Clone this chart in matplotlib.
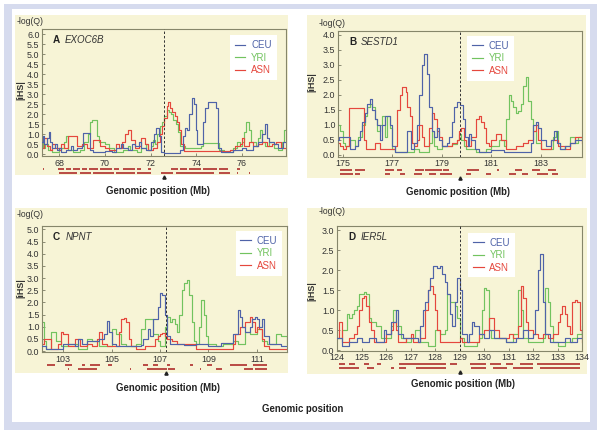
from matplotlib import pyplot as plt
from matplotlib.patches import Rectangle

plt.rcParams['font.family'] = ['Liberation Sans', 'DejaVu Sans']

# ---- colours ----
CEU_C = '#4f63a8'
YRI_C = '#72c35f'
ASN_C = '#e5473d'
GENE_C = '#a81c1c'
PANEL_BG = '#f7f4d6'
FRAME_C = '#d6dbee'

# ================= data: panel A (EXOC6B) =================
a_ceu_x = [67.25, 67.3, 67.35, 67.45, 67.55, 67.6, 67.7, 67.8, 67.9, 68.0, 68.1, 68.3, 68.5, 68.6, 68.8, 69.0, 69.05, 69.35,
           69.5, 70.0, 70.3, 70.5, 70.7, 70.8, 71.0, 71.2, 71.3, 71.5, 71.6, 71.8, 72.0, 72.15, 72.25, 72.35, 72.45, 72.6,
           73.3, 73.4, 73.5, 73.6, 73.7, 73.8, 73.9, 74.0, 74.05, 74.2, 74.3, 74.4, 74.5, 74.85, 74.95, 75.1, 75.6, 76.0,
           76.2, 76.5, 76.7, 76.9, 77.0, 77.1, 77.2, 77.4, 77.6, 77.8, 77.93]
a_ceu_y = [0.6, 0.9, 0.5, 0.8, 1.1, 0.6, 0.3, 0.5, 0.2, 0.3, 0.1, 0.2, 0.4, 0.2, 0.3, 0.4, 1.05, 0.2,
           0.1, 0.15, 0.1, 0.3, 0.5, 0.3, 0.2, 0.5, 0.4, 0.6, 0.3, 0.2, 0.6, 1.0, 1.3, 0.9, 0.1, 0.05,
           0.2, 0.9, 1.3, 1.2, 2.0, 2.8, 2.5, 1.2, 0.5, 0.5, 1.6, 2.3, 2.6, 2.3, 0.3, 0.1, 0.2, 0.3,
           0.2, 0.4, 0.6, 1.0, 1.5, 0.8, 0.6, 0.5, 0.3, 0.6, 0.6]
a_yri_x = [67.25, 67.3, 67.4, 67.5, 67.7, 68.0, 68.2, 68.3, 68.4, 68.6, 68.9, 69.1, 69.25, 69.35, 69.45, 69.65, 69.75,
           70.0, 70.2, 70.4, 70.8, 71.0, 71.1, 71.4, 71.6, 71.8, 71.9, 72.0, 72.1, 72.2, 72.3, 72.4, 72.5, 72.6, 72.7,
           72.8, 72.9, 73.0, 73.1, 73.2, 73.3, 73.5, 74.2, 74.3, 75.0, 75.2, 75.6, 75.8, 75.9, 76.0, 76.1, 76.2, 76.3,
           76.4, 76.6, 76.7, 76.8, 76.9, 77.0, 77.2, 77.4, 77.6, 77.75, 77.85, 77.93]
a_yri_y = [0.7, 0.3, 0.5, 0.2, 0.1, 0.3, 0.6, 0.9, 0.2, 0.1, 0.2, 0.6, 1.0, 1.6, 1.7, 0.9, 0.6,
           0.5, 0.3, 0.1, 0.2, 0.4, 0.2, 0.1, 0.3, 0.5, 0.2, 0.4, 0.7, 0.5, 1.0, 1.4, 1.6, 1.9, 2.2,
           2.1, 2.0, 1.7, 1.5, 1.1, 0.4, 0.3, 0.4, 0.55, 0.2, 0.1, 0.3, 0.6, 0.4, 0.6, 1.1, 1.6, 1.2,
           0.6, 0.4, 0.8, 1.2, 0.6, 0.4, 0.6, 0.3, 0.2, 0.6, 1.2, 1.2]
a_asn_x = [67.25, 67.35, 67.45, 67.6, 67.7, 67.8, 68.0, 68.1, 68.2, 68.4, 68.8, 69.0, 69.2, 69.5, 69.8, 70.0, 70.2,
           70.5, 70.6, 70.75, 70.9, 71.0, 71.15, 71.3, 71.5, 71.6, 71.75, 71.9, 72.1, 72.3, 72.4, 72.5, 72.6, 72.7,
           72.75, 72.85, 72.95, 73.05, 73.15, 73.25, 73.35, 73.45, 75.5, 75.7, 75.9, 76.0, 76.1, 76.3, 76.5, 76.7,
           76.9, 77.1, 77.3, 77.5, 77.7, 77.93]
a_asn_y = [0.3, 0.8, 0.4, 0.2, 0.5, 0.3, 0.2, 0.5, 0.3, 0.9, 0.4, 0.5, 0.3, 0.7, 0.4, 0.3, 0.2,
           0.5, 0.3, 0.6, 1.0, 1.2, 0.7, 0.3, 0.4, 0.8, 0.5, 0.2, 0.3, 0.6, 1.0, 1.4, 1.8, 2.4,
           2.6, 2.3, 2.1, 1.9, 1.6, 1.2, 0.5, 0.15, 0.2, 0.4, 0.5, 0.8, 0.4, 0.6, 0.4, 0.5,
           0.6, 0.4, 0.5, 0.6, 0.3, 0.3]
a_genes_top = [(67.3, 67.33), (67.95, 68.2), (68.3, 68.5), (68.6, 68.9), (69.0, 69.2), (69.3, 69.7), (69.8, 70.3),
               (70.4, 70.6), (70.8, 71.3), (71.4, 71.6), (71.9, 72.0), (72.9, 73.2), (73.3, 73.6), (73.7, 74.2),
               (74.3, 74.9), (75.0, 75.4), (75.8, 75.9)]
a_genes_bot = [(68.0, 68.8), (68.9, 69.4), (69.5, 70.4), (70.5, 71.3), (71.4, 72.0), (72.45, 73.0), (73.1, 74.8),
               (75.0, 75.5), (75.8, 75.85), (76.3, 76.35)]

# ================= data: panel B (SESTD1) =================
b_ceu_x = [174.8, 174.85, 175.3, 175.5, 175.6, 175.7, 175.8, 175.9, 176.0, 176.1, 176.2, 176.3, 176.4, 176.5, 176.6,
           176.7, 176.9, 177.0, 177.1, 177.6, 177.75, 177.9, 178.0, 178.1, 178.2, 178.3, 178.4, 178.5, 178.6, 178.7,
           178.8, 178.9, 179.0, 179.2, 179.3, 179.4, 179.5, 179.6, 179.75, 179.85, 179.95, 180.05, 180.1, 180.2,
           180.35, 180.5, 181.0, 181.5, 182.6, 182.7, 182.8, 182.9, 183.0, 183.2, 183.4, 183.55, 183.65, 183.8,
           184.0, 184.2, 184.4, 184.67]
b_ceu_y = [0.5, 0.6, 0.2, 0.3, 0.5, 0.8, 1.1, 1.4, 1.7, 1.85, 1.5, 1.2, 1.0, 0.5, 1.0,
           1.3, 1.0, 0.3, 0.1, 0.8, 0.2, 0.4, 1.0, 2.0, 3.0, 3.35, 2.7, 1.6, 0.8, 0.6,
           0.9, 0.5, 0.3, 0.4, 0.6, 1.1, 1.6, 1.75, 1.65, 1.2, 0.6, 0.3, 0.7, 0.5,
           0.2, 0.1, 0.15, 0.1, 0.4, 1.0, 1.1, 0.9, 0.5, 0.3, 0.5, 0.8, 0.4, 0.2,
           0.3, 0.4, 0.5, 0.5]
b_yri_x = [174.8, 174.9, 175.0, 175.1, 175.3, 175.5, 175.6, 175.8, 175.9, 176.0, 176.1, 176.2, 176.3, 176.4, 176.5,
           176.6, 176.7, 176.8, 176.9, 177.0, 177.1, 177.9, 178.1, 178.5, 178.6, 178.7, 178.8, 179.0, 179.4, 179.6,
           179.7, 179.8, 179.9, 180.0, 180.4, 180.8, 181.0, 181.3, 181.5, 181.6, 181.7, 181.8, 181.9, 182.0, 182.1,
           182.2, 182.3, 182.4, 182.5, 182.6, 182.7, 182.8, 183.0, 183.3, 183.5, 183.6, 183.7, 183.8, 184.0, 184.2,
           184.4, 184.5, 184.67]
b_yri_y = [1.0, 0.8, 0.4, 0.3, 0.5, 0.3, 0.6, 1.0, 1.3, 1.6, 1.7, 1.6, 1.2, 0.8, 1.0,
           1.3, 0.6, 1.3, 0.9, 0.2, 0.1, 0.2, 0.1, 0.4, 0.8, 0.3, 0.2, 0.3, 0.35, 0.5,
           0.7, 0.5, 0.3, 0.2, 0.1, 0.2, 0.3, 0.5, 0.3, 1.2, 2.0, 1.8, 1.6, 1.4, 1.45,
           1.7, 2.3, 2.6, 1.8, 1.2, 0.8, 0.4, 0.2, 0.2, 0.6, 0.8, 0.4, 0.2, 0.3, 0.6,
           0.4, 0.6, 0.6]
b_asn_x = [174.8, 174.9, 175.0, 175.15, 175.25, 175.85, 175.95, 176.3, 176.5, 177.0, 177.1, 177.2, 177.3, 177.4,
           177.55, 177.6, 177.7, 177.8, 177.9, 178.0, 178.1, 178.2, 178.3, 178.5, 178.6, 178.7, 178.8, 178.9, 179.0,
           179.4, 179.6, 179.7, 179.8, 179.9, 180.0, 180.2, 180.4, 180.5, 180.6, 180.7, 180.8, 180.9, 181.0, 181.2,
           181.4, 181.6, 182.0, 182.3, 182.5, 182.7, 182.8, 182.9, 183.0, 183.4, 183.7, 184.0, 184.2, 184.4, 184.67]
b_asn_y = [0.4, 0.3, 0.2, 0.3, 1.55, 0.5, 0.2, 0.4, 0.2, 0.2, 0.3, 1.5, 2.0, 2.25,
           2.1, 1.6, 1.3, 0.4, 0.3, 0.5, 1.0, 0.6, 0.3, 0.9, 1.4, 1.2, 0.8, 0.6, 0.3,
           0.4, 0.5, 0.8, 0.9, 0.5, 0.3, 0.6, 1.2, 1.3, 1.1, 0.9, 0.4, 0.3, 0.5, 0.7,
           0.5, 0.2, 0.3, 0.4, 0.5, 0.8, 1.0, 0.5, 0.2, 0.5, 0.3, 0.2, 0.4, 0.6, 0.4]
b_genes_top = [(174.9, 175.38), (175.5, 175.9), (176.72, 177.06), (177.2, 177.4), (177.93, 178.27), (178.34, 179.01),
               (179.05, 179.3), (180.02, 180.5), (181.25, 181.32), (181.97, 182.24), (182.64, 182.98), (183.3, 183.6)]
b_genes_bot = [(174.9, 175.4), (175.5, 175.7), (176.7, 176.9), (177.3, 177.5), (177.9, 178.2), (178.5, 178.75),
               (178.94, 179.41), (180.0, 180.2), (180.8, 181.0), (181.7, 182.0), (182.25, 182.5), (182.85, 183.3),
               (183.45, 183.7)]

# ================= data: panel C (NPNT) =================
c_ceu_x = [102.13, 102.3, 103.0, 103.5, 103.6, 103.8, 104.0, 104.5, 104.7, 104.8, 104.9, 105.0, 105.2, 106.2, 106.3,
           106.5, 106.6, 106.7, 106.9, 107.0, 107.1, 107.2, 107.3, 107.4, 107.6, 108.0, 108.5, 109.0, 109.5, 110.0,
           110.2, 110.3, 110.4, 110.5, 110.7, 110.8, 110.9, 111.0, 111.1, 111.2, 111.3, 111.5, 111.8, 112.0, 112.24]
c_ceu_y = [0.2, 0.1, 0.3, 0.2, 0.5, 0.3, 0.4, 0.5, 0.7, 1.25, 0.8, 0.3, 0.2, 0.25, 0.5,
           0.9, 0.6, 1.3, 1.8, 2.4, 2.3, 1.5, 0.6, 0.3, 0.3, 0.25, 0.3, 0.2, 0.35, 0.7,
           1.7, 1.4, 1.0, 0.8, 1.0, 1.3, 1.4, 1.3, 1.0, 1.3, 0.6, 0.3, 0.3, 0.2, 0.2]
c_yri_x = [102.13, 102.2, 102.3, 102.5, 102.7, 102.9, 103.2, 103.6, 104.0, 104.2, 104.5, 104.8, 105.0, 105.2, 105.4,
           105.6, 106.0, 106.2, 106.4, 106.7, 106.9, 107.0, 107.2, 107.3, 107.4, 107.5, 107.6, 107.7, 107.8, 107.9,
           108.0, 108.1, 108.2, 108.3, 108.4, 108.5, 108.6, 108.7, 108.8, 108.9, 109.0, 109.3, 109.6, 110.0, 110.2,
           110.5, 110.7, 111.0, 111.2, 111.4, 111.6, 111.8, 112.0, 112.24]
c_yri_y = [1.2, 0.4, 0.1, 0.8, 0.4, 0.2, 0.3, 0.1, 0.5, 0.4, 0.2, 0.2, 0.9, 0.7, 0.3,
           0.2, 0.3, 0.9, 1.3, 0.7, 0.4, 0.2, 1.0, 1.4, 1.2, 1.3, 1.1, 0.8, 1.5, 2.5,
           2.8, 2.9, 2.3, 1.2, 0.4, 0.3, 1.0, 2.1, 1.5, 0.6, 0.3, 0.2, 0.3, 0.4, 0.3,
           0.8, 0.7, 0.9, 0.4, 0.3, 0.3, 0.7, 0.6, 0.3]
c_asn_x = [102.13, 102.2, 102.4, 102.5, 102.8, 102.9, 103.0, 103.2, 103.5, 103.7, 104.0, 104.2, 104.4, 104.5, 104.6,
           104.8, 105.1, 105.3, 105.4, 105.5, 105.6, 105.7, 105.8, 106.0, 106.4, 106.8, 106.9, 107.0, 107.1, 107.2,
           107.3, 107.5, 107.7, 108.0, 108.5, 110.0, 110.1, 110.3, 110.5, 110.7, 110.8, 110.9, 111.0, 111.1, 111.2,
           111.3, 111.5, 112.24]
c_asn_y = [0.3, 0.5, 0.5, 0.1, 0.3, 0.8, 0.7, 0.2, 0.5, 0.2, 0.3, 0.2, 0.5, 0.8, 0.3,
           0.2, 0.2, 0.8, 1.3, 1.35, 1.2, 0.5, 0.2, 0.1, 0.2, 0.5, 0.6, 0.7, 0.75, 0.6,
           0.5, 0.4, 0.3, 0.3, 0.1, 0.3, 0.7, 1.0, 1.2, 1.4, 1.2, 0.8, 1.0, 0.9, 0.5,
           0.2, 0.1, 0.1]
c_genes_top = [(102.32, 102.67), (103.08, 103.36), (103.78, 103.9), (104.11, 104.52), (104.87, 105.0),
               (106.31, 106.52), (106.73, 106.93), (107.28, 107.42), (108.24, 108.37), (108.92, 109.13),
               (109.88, 110.57), (110.85, 111.4)]
c_genes_bot = [(103.2, 103.25), (103.63, 104.39), (105.75, 105.8), (106.45, 107.27), (107.34, 107.62),
               (108.65, 108.7), (109.33, 109.54), (110.45, 110.85), (110.9, 111.4)]

# ================= data: panel D (IER5L) =================
d_ceu_x = [124.0, 124.2, 124.5, 124.8, 125.0, 125.3, 125.6, 125.9, 126.0, 126.2, 126.4, 126.5, 126.7, 127.0, 127.3,
           127.4, 127.5, 127.6, 127.7, 127.8, 127.9, 128.0, 128.1, 128.2, 128.3, 128.4, 128.5, 128.6, 128.7, 128.8,
           128.9, 129.0, 129.1, 129.3, 129.4, 129.5, 129.6, 129.8, 130.0, 130.2, 130.4, 130.6, 130.9, 131.1, 131.3,
           131.6, 131.8, 132.0, 132.1, 132.2, 132.3, 132.4, 132.5, 132.7, 133.0, 133.3, 133.5, 133.8, 134.0]
d_ceu_y = [0.3, 0.1, 0.2, 0.3, 0.2, 0.3, 0.2, 0.5, 0.4, 0.7, 1.0, 0.4, 0.3, 0.3, 0.2,
           0.6, 1.0, 1.2, 1.5, 1.8, 2.1, 2.1, 2.05, 2.1, 1.9, 1.7, 1.4, 0.9, 0.6, 1.2,
           1.8, 1.5, 0.4, 0.2, 0.4, 0.7, 0.6, 0.4, 0.3, 0.5, 0.3, 0.3, 0.2, 0.2, 0.3,
           0.5, 0.3, 0.4, 1.0, 2.0, 2.4, 1.2, 0.4, 0.2, 0.2, 0.3, 0.2, 0.3, 0.5]
d_yri_x = [124.0, 124.2, 124.4, 124.5, 124.6, 124.7, 124.8, 124.9, 125.0, 125.1, 125.2, 125.3, 125.4, 125.6, 125.8,
           126.0, 126.2, 126.3, 126.4, 126.6, 126.8, 127.0, 127.2, 127.4, 127.7, 128.0, 128.2, 128.4, 128.5, 128.6,
           128.8, 128.9, 129.0, 129.2, 129.7, 129.8, 129.9, 130.0, 130.1, 130.2, 130.3, 130.6, 130.9, 131.2, 131.4,
           131.5, 131.6, 131.8, 132.4, 132.5, 132.6, 132.7, 132.8, 133.0, 133.3, 133.6, 133.8, 134.0]
d_yri_y = [0.3, 0.5, 0.9, 0.8, 0.9, 1.0, 1.1, 1.4, 1.4, 1.45, 1.4, 0.8, 0.7, 0.6, 0.3,
           0.3, 0.6, 1.0, 0.6, 0.3, 0.2, 0.3, 0.5, 0.2, 0.1, 0.5, 0.4, 0.5, 1.4, 1.2,
           1.1, 0.8, 0.3, 0.1, 0.2, 0.3, 1.0, 1.55, 1.5, 0.5, 0.3, 0.3, 0.2, 0.4, 1.5,
           1.0, 0.3, 0.2, 0.3, 1.55, 1.2, 0.6, 0.2, 0.1, 0.2, 0.3, 0.4, 0.6]
d_asn_x = [124.0, 124.1, 124.2, 124.5, 124.7, 124.8, 124.9, 125.0, 125.1, 125.2, 125.3, 125.4, 125.5, 125.8, 126.0,
           126.2, 126.3, 126.4, 126.5, 126.8, 127.0, 127.1, 127.4, 127.6, 127.7, 127.8, 127.9, 128.0, 128.1, 128.2,
           128.4, 128.7, 129.0, 129.1, 129.4, 129.8, 130.0, 130.2, 130.4, 130.6, 131.0, 131.2, 131.4, 131.5, 131.6,
           131.7, 131.8, 132.0, 132.2, 132.4, 132.6, 132.8, 133.0, 133.1, 133.2, 133.3, 133.4, 133.5, 133.6, 133.7,
           133.8, 133.9, 134.0]
d_asn_y = [0.3, 0.7, 0.2, 0.3, 0.4, 0.6, 1.0, 1.3, 1.35, 1.1, 0.7, 0.5, 0.2, 0.2, 0.4,
           0.5, 0.7, 0.5, 0.2, 0.3, 0.4, 0.2, 0.3, 1.0, 1.5, 1.6, 1.4, 1.0, 0.5, 0.2,
           0.2, 0.2, 0.3, 0.2, 0.2, 0.4, 0.5, 0.8, 0.5, 0.3, 0.4, 0.3, 0.6, 1.6, 1.3,
           0.7, 0.5, 0.4, 0.3, 0.4, 0.3, 0.4, 0.7, 0.9, 1.1, 0.9, 0.6, 0.4, 1.2, 1.25,
           1.2, 0.5, 0.2]
d_genes_top = [(124.07, 124.34), (124.48, 124.75), (125.1, 125.3), (125.64, 125.78), (126.53, 128.45),
               (128.6, 128.9), (129.41, 130.1), (130.23, 130.7), (130.9, 131.2), (131.47, 132.0), (132.15, 133.93)]
d_genes_bot = [(124.07, 124.89), (125.23, 125.5), (126.19, 126.33), (126.53, 126.8), (127.22, 128.45),
               (129.48, 130.1), (130.37, 130.92), (131.19, 132.0), (132.29, 133.93)]

# panel settings: letter, gene, axis limits, ticks, dashed line, axes box in px (l, t, r, b), legend anchor
panels = [
    dict(letter='A', gene='EXOC6B', xlim=(67.25, 77.93), ylim=(-0.08, 6.25), ymax=6.0, xticks=[68, 70, 72, 74, 76],
         mark=72.58, box=(42, 29, 286, 156),
         ceu=(a_ceu_x, a_ceu_y), yri=(a_yri_x, a_yri_y), asn=(a_asn_x, a_asn_y),
         genes=(a_genes_top, a_genes_bot), leg=(0.77, 0.95)),
    dict(letter='B', gene='SESTD1', xlim=(174.81, 184.67), ylim=(-0.08, 4.13), ymax=4.0, xticks=[175, 177, 179, 181, 183],
         mark=179.74, box=(338, 31, 582, 157),
         ceu=(b_ceu_x, b_ceu_y), yri=(b_yri_x, b_yri_y), asn=(b_asn_x, b_asn_y),
         genes=(b_genes_top, b_genes_bot), leg=(0.53, 0.96)),
    dict(letter='C', gene='NPNT', xlim=(102.13, 112.24), ylim=(-0.04, 5.14), ymax=5.0, xticks=[103, 105, 107, 109, 111],
         mark=107.23, box=(42, 226, 287, 352),
         ceu=(c_ceu_x, c_ceu_y), yri=(c_yri_x, c_yri_y), asn=(c_asn_x, c_asn_y),
         genes=(c_genes_top, c_genes_bot), leg=(0.79, 0.96)),
    dict(letter='D', gene='IER5L', xlim=(124.0, 134.0), ylim=(-0.02, 3.1), ymax=3.0, xticks=list(range(124, 135)),
         mark=129.02, box=(337, 226, 582, 351),
         ceu=(d_ceu_x, d_ceu_y), yri=(d_yri_x, d_yri_y), asn=(d_asn_x, d_asn_y),
         genes=(d_genes_top, d_genes_bot), leg=(0.535, 0.945)),
]

W, H = 600, 432


def fx(x):
    return x / W


def fy(y):
    return 1 - y / H


fig = plt.figure(figsize=(6, 4.32), dpi=100)

# lavender frame + white inner area
fig.add_artist(Rectangle((fx(4), fy(430)), fx(593), 426 / H, transform=fig.transFigure,
                         facecolor=FRAME_C, edgecolor='none', zorder=-10))
fig.add_artist(Rectangle((fx(12), fy(422)), fx(578), 413 / H, transform=fig.transFigure,
                         facecolor='white', edgecolor='none', zorder=-9))

# pale yellow panel backgrounds (x0, y0, x1, y1 in px)
for (x0, y0, x1, y1) in [(15, 15, 288, 175), (307, 15, 586, 178), (15, 208, 288, 373), (307, 208, 587, 374)]:
    fig.add_artist(Rectangle((fx(x0), fy(y1)), fx(x1 - x0), (y1 - y0) / H, transform=fig.transFigure,
                             facecolor=PANEL_BG, edgecolor='none', zorder=-8))

for p in panels:
    l, t, r, b = p['box']
    ax = fig.add_axes([fx(l), fy(b), fx(r - l), (b - t) / H])
    ax.set_facecolor(PANEL_BG)

    ax.plot(*p['ceu'], color=CEU_C, lw=0.85, drawstyle='steps-post', label='CEU', zorder=3)
    ax.plot(*p['yri'], color=YRI_C, lw=0.85, drawstyle='steps-post', label='YRI', zorder=2)
    ax.plot(*p['asn'], color=ASN_C, lw=0.85, drawstyle='steps-post', label='ASN', zorder=2.5)

    ax.axvline(p['mark'], color='#333333', lw=0.7, ls=(0, (2.5, 2)), zorder=4)

    ax.set_xlim(*p['xlim'])
    ax.set_ylim(*p['ylim'])
    ax.set_xticks(p['xticks'])
    nt = int(p['ymax'] * 2) + 1
    ax.set_yticks([i * 0.5 for i in range(nt)])
    ax.set_yticklabels(['%.1f' % (i * 0.5) for i in range(nt)])
    ax.tick_params(labelsize=6.4, length=2, width=0.6, direction='in', pad=1.8, colors='#7a7a64',
                   labelcolor='#333333')
    for s in ax.spines.values():
        s.set_color('#86866a')
        s.set_linewidth(0.8)

    # panel letter + gene name
    ax.text(0.045, 0.915, p['letter'], transform=ax.transAxes, fontsize=7.2, fontweight='bold',
            va='center', color='#222222')
    ax.text(0.095, 0.915, p['gene'], transform=ax.transAxes, fontsize=7, style='italic',
            va='center', color='#333333')

    # legend (white box, coloured text)
    leg = ax.legend(loc='upper left', bbox_to_anchor=p['leg'], fontsize=7, frameon=True, fancybox=False,
                    handlelength=1.1, handletextpad=0.6, borderpad=0.5, labelspacing=0.25,
                    borderaxespad=0)
    leg.get_frame().set_facecolor('white')
    leg.get_frame().set_edgecolor('none')
    leg.get_frame().set_alpha(1)
    for txt, c in zip(leg.get_texts(), [CEU_C, YRI_C, ASN_C]):
        txt.set_color(c)

    # gene tracks below the axis
    h = b - t
    tr = ax.get_xaxis_transform()
    top_genes, bot_genes = p['genes']
    for g0, g1 in top_genes:
        ax.hlines(-13.0 / h, g0, g1, colors=GENE_C, lw=1.1, transform=tr, clip_on=False)
    for g0, g1 in bot_genes:
        ax.hlines(-17.0 / h, g0, g1, colors=GENE_C, lw=1.1, transform=tr, clip_on=False)
    ax.plot([p['mark']], [-20.5 / h], marker='^', ms=2.3, color='#222222', transform=tr, clip_on=False)

# outer labels (positions in px)
for x, y in [(17, 21), (319, 23), (17, 215), (319, 212)]:
    fig.text(fx(x), fy(y), '-log(Q)', fontsize=6.2, va='center', ha='left', color='#333333')
for x, y in [(21, 90), (312, 82), (21, 288), (312, 291)]:
    fig.text(fx(x), fy(y), '|iHS|', fontsize=6.5, fontweight='bold', rotation=90, va='center', ha='center',
             color='#333333')
for x, y in [(158, 191), (458, 192), (168, 388), (463, 384)]:
    fig.text(fx(x), fy(y), 'Genomic position (Mb)', fontsize=6.9, fontweight='bold', va='center', ha='center',
             color='#222222')
fig.text(fx(303), fy(409), 'Genomic position', fontsize=6.9, fontweight='bold', va='center', ha='center',
         color='#222222')

plt.savefig('out.png', dpi=100)
